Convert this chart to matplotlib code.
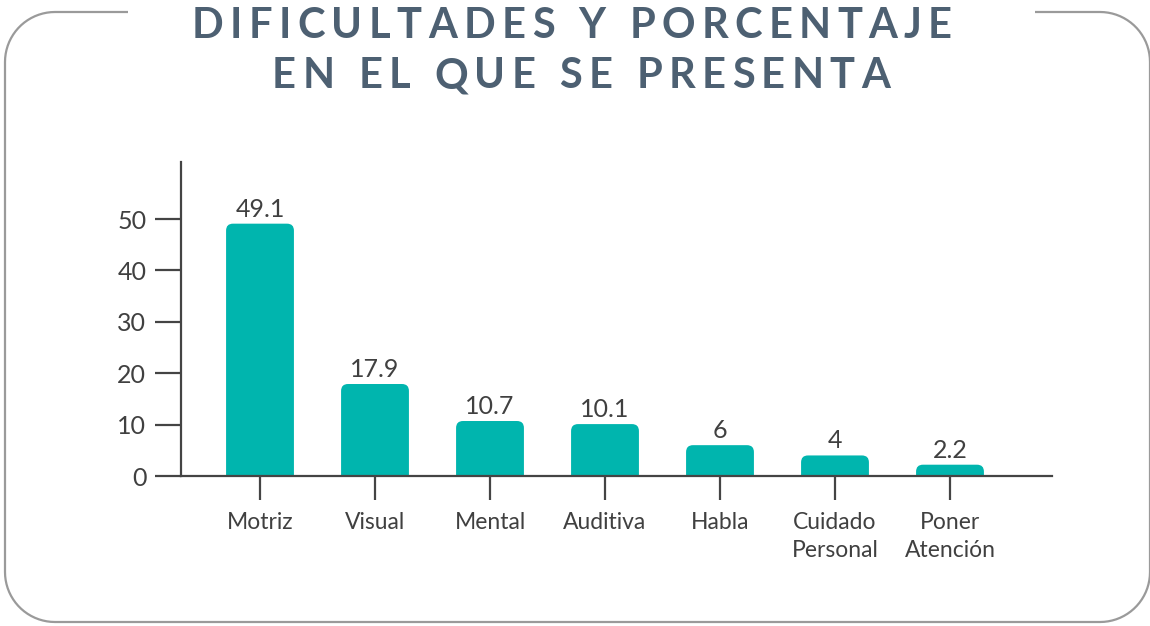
import matplotlib.pyplot as plt
from matplotlib.patches import FancyBboxPatch, PathPatch
from matplotlib.path import Path
import numpy as np

# Dificultades y porcentaje en el que se presenta
categorias = ['Motriz', 'Visual', 'Mental', 'Auditiva', 'Habla',
              'Cuidado\nPersonal', 'Poner\nAtención']
porcentaje = [49.1, 17.9, 10.7, 10.1, 6, 4, 2.2]
etiquetas = ['49.1', '17.9', '10.7', '10.1', '6', '4', '2.2']
y_ticks = [0, 10, 20, 30, 40, 50]

color_barra = '#00b5ae'
color_texto = '#404040'
color_titulo = '#4d6072'
color_borde = '#9a9a9a'

plt.rcParams['font.family'] = ['Lato', 'DejaVu Sans']

fig = plt.figure(figsize=(11.5, 6.26), dpi=100)
renderer = fig.canvas.get_renderer()

# capa de fondo en pixeles para el marco redondeado
bg = fig.add_axes([0, 0, 1, 1])
bg.set_xlim(0, 1150)
bg.set_ylim(626, 0)
bg.axis('off')


def marco(x0, y0, x1, y1, r, gap0, gap1):
    # marco redondeado con hueco arriba para el titulo
    pts = [(gap1, y0), (x1 - r, y0)]
    a = np.linspace(-np.pi / 2, 0, 20)
    pts += list(zip(x1 - r + r * np.cos(a), y0 + r + r * np.sin(a)))
    pts += [(x1, y1 - r)]
    a = np.linspace(0, np.pi / 2, 20)
    pts += list(zip(x1 - r + r * np.cos(a), y1 - r + r * np.sin(a)))
    pts += [(x0 + r, y1)]
    a = np.linspace(np.pi / 2, np.pi, 20)
    pts += list(zip(x0 + r + r * np.cos(a), y1 - r + r * np.sin(a)))
    pts += [(x0, y0 + r)]
    a = np.linspace(np.pi, 1.5 * np.pi, 20)
    pts += list(zip(x0 + r + r * np.cos(a), y0 + r + r * np.sin(a)))
    pts += [(gap0, y0)]
    return Path(pts)


bg.add_patch(PathPatch(marco(5, 12, 1150, 622, 50, 128, 1035),
                       fc='none', ec=color_borde, lw=1.6))


def texto_espaciado(ax, xc, y, s, ancho_total, **kw):
    anchos = []
    for ch in s:
        t = ax.text(0, 0, ch if ch != ' ' else 'I', **kw)
        anchos.append(t.get_window_extent(renderer).width)
        t.remove()
    anchos = [w if ch != ' ' else w * 0.9 for w, ch in zip(anchos, s)]
    track = (ancho_total - sum(anchos)) / (len(s) - 1)
    xpos = xc - ancho_total / 2
    for ch, w in zip(s, anchos):
        if ch != ' ':
            ax.text(xpos + w / 2, y, ch, ha='center', va='center', **kw)
        xpos += w + track


kw_titulo = dict(fontsize=30, fontweight='bold', color=color_titulo)
texto_espaciado(bg, 572, 26, 'DIFICULTADES Y PORCENTAJE', 760, **kw_titulo)
texto_espaciado(bg, 581, 76, 'EN EL QUE SE PRESENTA', 618, **kw_titulo)

ax = fig.add_axes([181 / 1150, 150 / 626, 871 / 1150, 314 / 626])
ax.set_facecolor('none')

x = list(range(len(categorias)))
ancho = 0.59
bars = ax.bar(x, porcentaje, width=ancho, color=color_barra)

ax.set_xlim(-0.687, 6.887)
ax.set_ylim(0, 61.1)

# barras con esquinas superiores redondeadas
px_x = 871 / (6.887 + 0.687)
px_y = 314 / 61.1
for bar in bars:
    bx, bw, bh = bar.get_x(), bar.get_width(), bar.get_height()
    bar.remove()
    ax.add_patch(FancyBboxPatch((bx, -3), bw, bh + 3,
                                boxstyle='round,pad=0,rounding_size=0.06',
                                mutation_aspect=px_x / px_y,
                                fc=color_barra, ec='none', zorder=2))

for xi, v, t in zip(x, porcentaje, etiquetas):
    ax.text(xi, v + 0.6, t, ha='center', va='bottom', fontsize=18,
            color=color_texto)

ax.set_xticks(x)
ax.set_xticklabels(categorias, fontsize=16.5, color=color_texto,
                   linespacing=1.4)
ax.set_yticks(y_ticks)
ax.set_yticklabels([str(v) for v in y_ticks], fontsize=18, color=color_texto)

for s in ['top', 'right']:
    ax.spines[s].set_visible(False)
for s in ['left', 'bottom']:
    ax.spines[s].set_color('#444444')
    ax.spines[s].set_linewidth(1.6)

ax.tick_params(axis='y', direction='out', length=19, width=1.6,
               color='#444444', pad=6)
ax.tick_params(axis='x', direction='out', length=17, width=1.6,
               color='#444444', pad=9)

fig.savefig('out.png', dpi=100)
